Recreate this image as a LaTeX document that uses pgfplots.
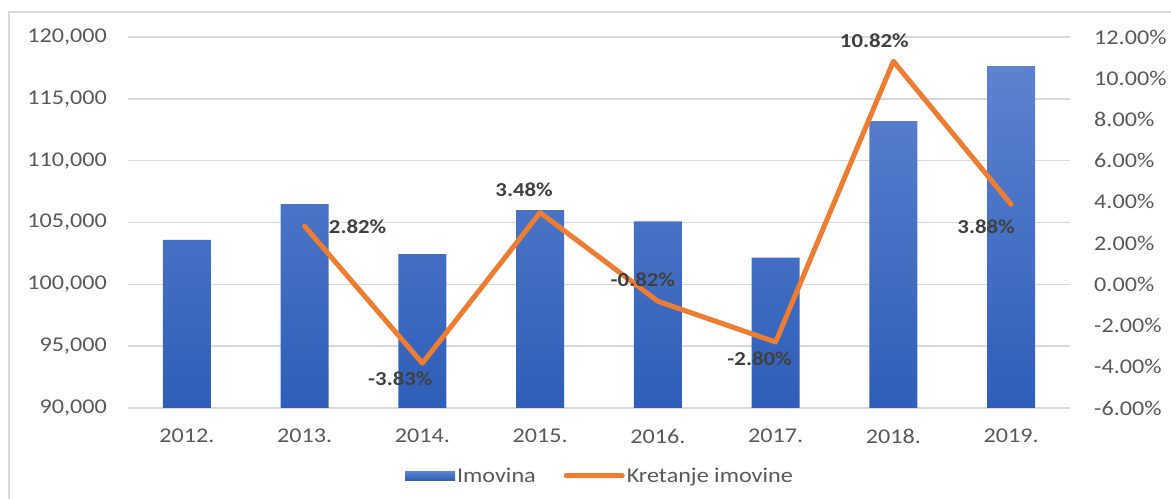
\documentclass[border=0pt]{standalone}
\usepackage{pgfplots}
\pgfplotsset{compat=1.18}
\usepackage{fontspec}
\setmainfont{Carlito}[FakeStretch=1.15]

\definecolor{barTop}{RGB}{93,130,207}
\definecolor{barBot}{RGB}{46,94,185}
\definecolor{lineOr}{RGB}{237,125,49}
\definecolor{gridC}{RGB}{217,217,217}
\definecolor{tickC}{RGB}{89,89,89}
\definecolor{lblC}{RGB}{64,64,64}

\pgfplotsset{
  /pgf/number format/assume math mode=true,
  basic/.style={
    at={(128bp,91bp)}, anchor=south west,
    scale only axis, width=942bp, height=371bp,
    xmin=-0.5, xmax=7.5,
    major tick length=0pt,
    tick label style={font=\fontsize{21bp}{23bp}\selectfont, text=tickC},
  },
}
\tikzset{lbl/.style={font=\bfseries\fontsize{19.8bp}{22bp}\selectfont, text=lblC, inner sep=0pt}}

\begin{document}
\begin{tikzpicture}
\useasboundingbox (0,0) rectangle (1171bp,499bp);
\draw[gridC, line width=1.5bp] (9bp,0) -- (9bp,487bp) -- (1171bp,487bp);

\begin{axis}[
  basic,
  ymin=90000, ymax=120000,
  ytick={90000,95000,...,120000},
  scaled y ticks=false,
  yticklabel style={/pgf/number format/fixed, /pgf/number format/1000 sep={,}, inner sep=0pt, xshift=-21bp},
  xtick={0,...,7},
  xticklabels={2012.,2013.,2014.,2015.,2016.,2017.,2018.,2019.},
  xticklabel style={inner sep=0pt, yshift=-21bp},
  axis line style={draw=none},
  xmajorgrids=false, ymajorgrids=true,
  major grid style={gridC, line width=1.5bp},
  legend columns=2,
  legend style={draw=none, fill=none, at={(0.501,-0.183)}, anchor=center,
    font=\fontsize{21bp}{23bp}\selectfont, text=tickC,
    /tikz/every even column/.append style={column sep=26bp}},
]
\addplot[ybar, bar width=48bp, bar shift=0pt, draw=none,
  top color=barTop, bottom color=barBot,
  legend image code/.code={\fill[top color=barTop, bottom color=barBot] (0bp,-4.5bp) rectangle (50bp,4.5bp);}]
  coordinates {(0,103600) (1,106480) (2,102450) (3,106000) (4,105100) (5,102150) (6,113200) (7,117650)};
\addlegendentry{Imovina}
\addlegendimage{legend image code/.code={\draw[lineOr, line width=5bp, line cap=round] (0bp,0bp) -- (56bp,0bp);}}
\addlegendentry{Kretanje imovine}
\end{axis}

\begin{axis}[
  basic,
  ymin=-6, ymax=12,
  ytick={-6,-4,...,12},
  axis x line=none,
  axis y line*=right,
  y axis line style={draw=none},
  yticklabel={\pgfmathprintnumber[fixed,fixed zerofill,precision=2]{\tick}\%},
  yticklabel style={inner sep=0pt, xshift=24bp},
  clip=false,
]
\addplot[lineOr, line width=5bp, line join=round, line cap=round]
  coordinates {(1,2.82) (2,-3.83) (3,3.48) (4,-0.82) (5,-2.80) (6,10.82) (7,3.88)};
\node[lbl, xshift=53bp, yshift=-1bp] at (axis cs:1,2.82) {2.82\%};
\node[lbl, xshift=-22bp, yshift=-15bp] at (axis cs:2,-3.83) {-3.83\%};
\node[lbl, xshift=-16bp, yshift=23bp] at (axis cs:3,3.48) {3.48\%};
\node[lbl, xshift=-15bp, yshift=21bp] at (axis cs:4,-0.82) {-0.82\%};
\node[lbl, xshift=-16bp, yshift=-17bp] at (axis cs:5,-2.80) {-2.80\%};
\node[lbl, xshift=-19bp, yshift=21bp] at (axis cs:6,10.82) {10.82\%};
\node[lbl, xshift=-25bp, yshift=-22bp] at (axis cs:7,3.88) {3.88\%};
\end{axis}
\end{tikzpicture}
\end{document}
